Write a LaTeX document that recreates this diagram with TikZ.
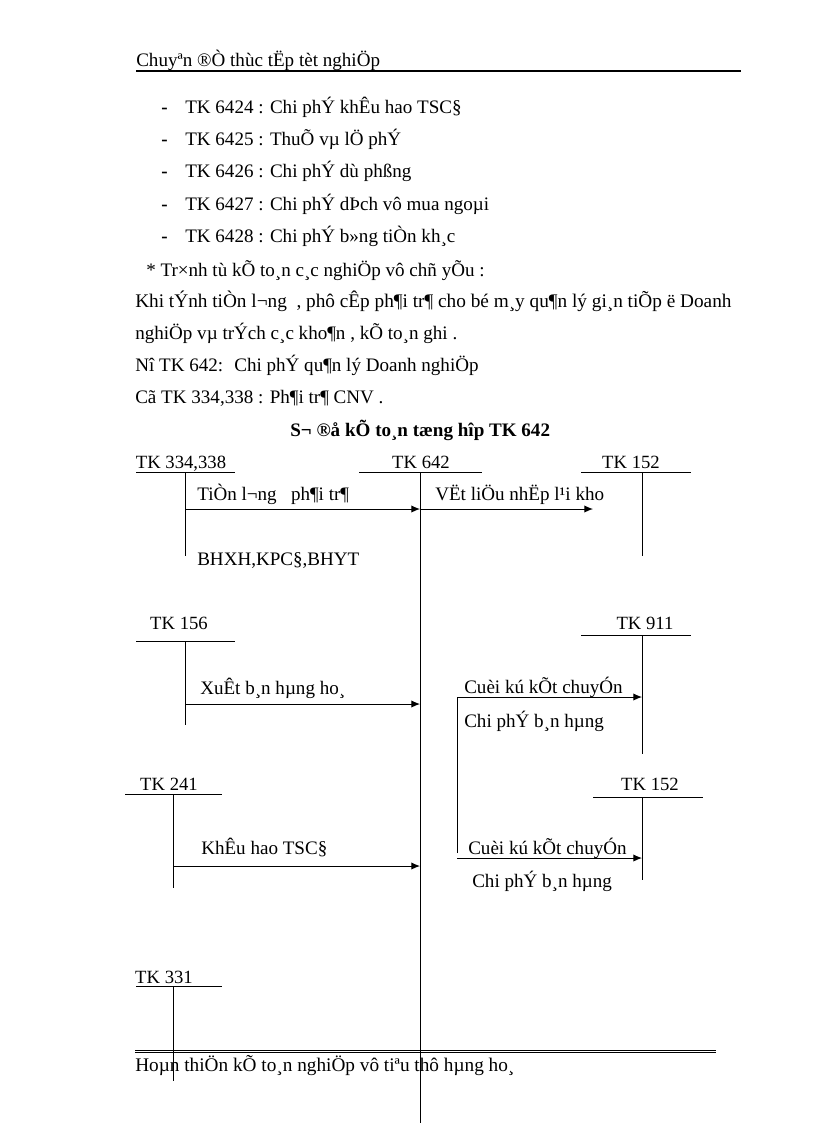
\documentclass[tikz,border=0pt]{standalone}
\usepackage{fontspec}
\usetikzlibrary{arrows.meta}
\setmainfont{Liberation Serif}
\tikzset{
  txt/.style={anchor=base west, inner sep=0pt, font=\fontsize{14.3}{16}\selectfont},
  boldtxt/.style={txt, font=\fontsize{14.3}{16}\selectfont\bfseries},
  widetxt/.style={txt, font=\fontsize{14.45}{16}\selectfont},
  acct/.style={txt, anchor=base, font=\fontsize{14}{16}\selectfont},
  line/.style={black, line width=0.75pt},
}
\begin{document}
\begin{tikzpicture}[x=0.75pt, y=-0.75pt, >={Latex[length=6.5pt,width=5.5pt]}]
\useasboundingbox (0,0) rectangle (816,1123);

% page text
\node[txt] (head) at (136,67) {Chuyªn ®Ò thùc tËp tèt nghiÖp};
\node[boldtxt] (d1) at (161,114) {-};
\node[boldtxt] (d2) at (161,146) {-};
\node[boldtxt] (d3) at (161,178) {-};
\node[boldtxt] (d4) at (161,210) {-};
\node[boldtxt] (d5) at (161,243) {-};
\node[txt] (r1) at (185,114) {TK 6424 : Chi phÝ khÊu hao TSC§};
\node[txt] (r2) at (185,146) {TK 6425 : ThuÕ vµ lÖ phÝ};
\node[txt] (r3) at (185,178) {TK 6426 : Chi phÝ dù phßng};
\node[txt] (r4) at (185,210) {TK 6427 : Chi phÝ dÞch vô mua ngoµi};
\node[txt] (r5) at (185,243) {TK 6428 : Chi phÝ b»ng tiÒn kh¸c};
\node[txt] (p1) at (146,276) {* Tr×nh tù kÕ to¸n c¸c nghiÖp vô chñ yÕu :};
\node[widetxt] (p2) at (135,307) {Khi tÝnh tiÒn l¬ng~~, phô cÊp ph¶i tr¶ cho bé m¸y qu¶n lý gi¸n tiÕp ë Doanh};
\node[txt] (p3) at (135,339) {nghiÖp vµ trÝch c¸c kho¶n , kÕ to¸n ghi .};
\node[txt] (p4) at (135,371) {Nî TK 642:~ Chi phÝ qu¶n lý Doanh nghiÖp};
\node[txt] (p5) at (135,403) {Cã TK 334,338 : Ph¶i tr¶ CNV .};
\node[boldtxt] (title) at (290,436) {S¬ ®å kÕ to¸n tæng hîp TK 642};
\node[widetxt] (foot) at (135,1071) {Hoµn thiÖn kÕ to¸n nghiÖp vô tiªu thô hµng ho¸};

% accounts
\node[acct] (A) at (181,468) {TK 334,338};
\node[acct] (B) at (421,468) {TK 642};
\node[acct] (C) at (631,468) {TK 152};
\node[acct] (D) at (179,629) {TK 156};
\node[acct] (E) at (645,629) {TK 911};
\node[acct] (F) at (169,790) {TK 241};
\node[acct] (G) at (650,790) {TK 152};
\node[acct] (H) at (164,983) {TK 331};

% arrow labels
\node[txt] (a1) at (197,500) {TiÒn l¬ng~~ ph¶i tr¶};
\node[txt] (a2) at (435,500) {VËt liÖu nhËp l¹i kho};
\node[txt] (a3) at (197,565) {BHXH,KPC§,BHYT};
\node[txt] (a4) at (200,694) {XuÊt b¸n hµng ho¸};
\node[txt] (a5) at (464,693) {Cuèi kú kÕt chuyÓn};
\node[txt] (a6) at (464,727) {Chi phÝ b¸n hµng};
\node[txt] (a7) at (201,854) {KhÊu hao TSC§};
\node[txt] (a8) at (468,854) {Cuèi kú kÕt chuyÓn};
\node[txt] (a9) at (472,887) {Chi phÝ b¸n hµng};

% coordinates
\coordinate (hl) at (136,71.5);
\coordinate (hr) at (741,71.5);
\coordinate (Al) at (136,472);
\coordinate (Ar) at (235,472);
\coordinate (At) at (185,472);
\coordinate (Ab) at (185,556);
\coordinate (Bl) at (359,472);
\coordinate (Br) at (482,472);
\coordinate (Bt) at (420,472);
\coordinate (Bb) at (420,1123);
\coordinate (Cl) at (581,472);
\coordinate (Cr) at (691,472);
\coordinate (Ct) at (642,472);
\coordinate (Cb) at (642,556);
\coordinate (Dl) at (136,641);
\coordinate (Dr) at (235,641);
\coordinate (Dt) at (185,641);
\coordinate (Db) at (185,725);
\coordinate (El) at (581,635);
\coordinate (Er) at (691,635);
\coordinate (Et) at (642,635);
\coordinate (Eb) at (642,754);
\coordinate (Fl) at (125,794);
\coordinate (Fr) at (222,794);
\coordinate (Ft) at (173,794);
\coordinate (Fb) at (173,888);
\coordinate (Gl) at (593,797);
\coordinate (Gr) at (703,797);
\coordinate (Gt) at (642,797);
\coordinate (Gb) at (642,880);
\coordinate (Hl) at (136,986);
\coordinate (Hr) at (222,986);
\coordinate (Ht) at (173,986);
\coordinate (Hb) at (173,1081);
\coordinate (s1) at (185,509);
\coordinate (e1) at (420,509);
\coordinate (e2) at (593,509);
\coordinate (s3) at (185,704);
\coordinate (e3) at (420,704);
\coordinate (e4) at (642,697);
\coordinate (s5) at (457,853);
\coordinate (s6) at (457,858);
\coordinate (e6) at (642,858);
\coordinate (s7) at (173,866);
\coordinate (e7) at (420,866);
\coordinate (f1) at (135,1050);
\coordinate (f2) at (716,1050);
\coordinate (f3) at (135,1052.5);
\coordinate (f4) at (716,1052.5);

% rules
\draw[black, line width=1.5pt] (hl) -- (hr);
\draw[line] (f1) -- (f2);
\draw[line] (f3) -- (f4);

% account bars
\draw[line] (Al) -- (Ar);
\draw[line] (At) -- (Ab);
\draw[line] (Bl) -- (Br);
\draw[line] (Bt) -- (Bb);
\draw[line] (Cl) -- (Cr);
\draw[line] (Ct) -- (Cb);
\draw[line] (Dl) -- (Dr);
\draw[line] (Dt) -- (Db);
\draw[line] (El) -- (Er);
\draw[line] (Et) -- (Eb);
\draw[line] (Fl) -- (Fr);
\draw[line] (Ft) -- (Fb);
\draw[line] (Gl) -- (Gr);
\draw[line] (Gt) -- (Gb);
\draw[line] (Hl) -- (Hr);
\draw[line] (Ht) -- (Hb);

% arrows
\draw[->, line] (s1) -- (e1);
\draw[->, line] (e1) -- (e2);
\draw[->, line] (s3) -- (e3);
\draw[->, line] (s5) |- (e4);
\draw[->, line] (s6) -- (e6);
\draw[->, line] (s7) -- (e7);

\end{tikzpicture}
\end{document}
